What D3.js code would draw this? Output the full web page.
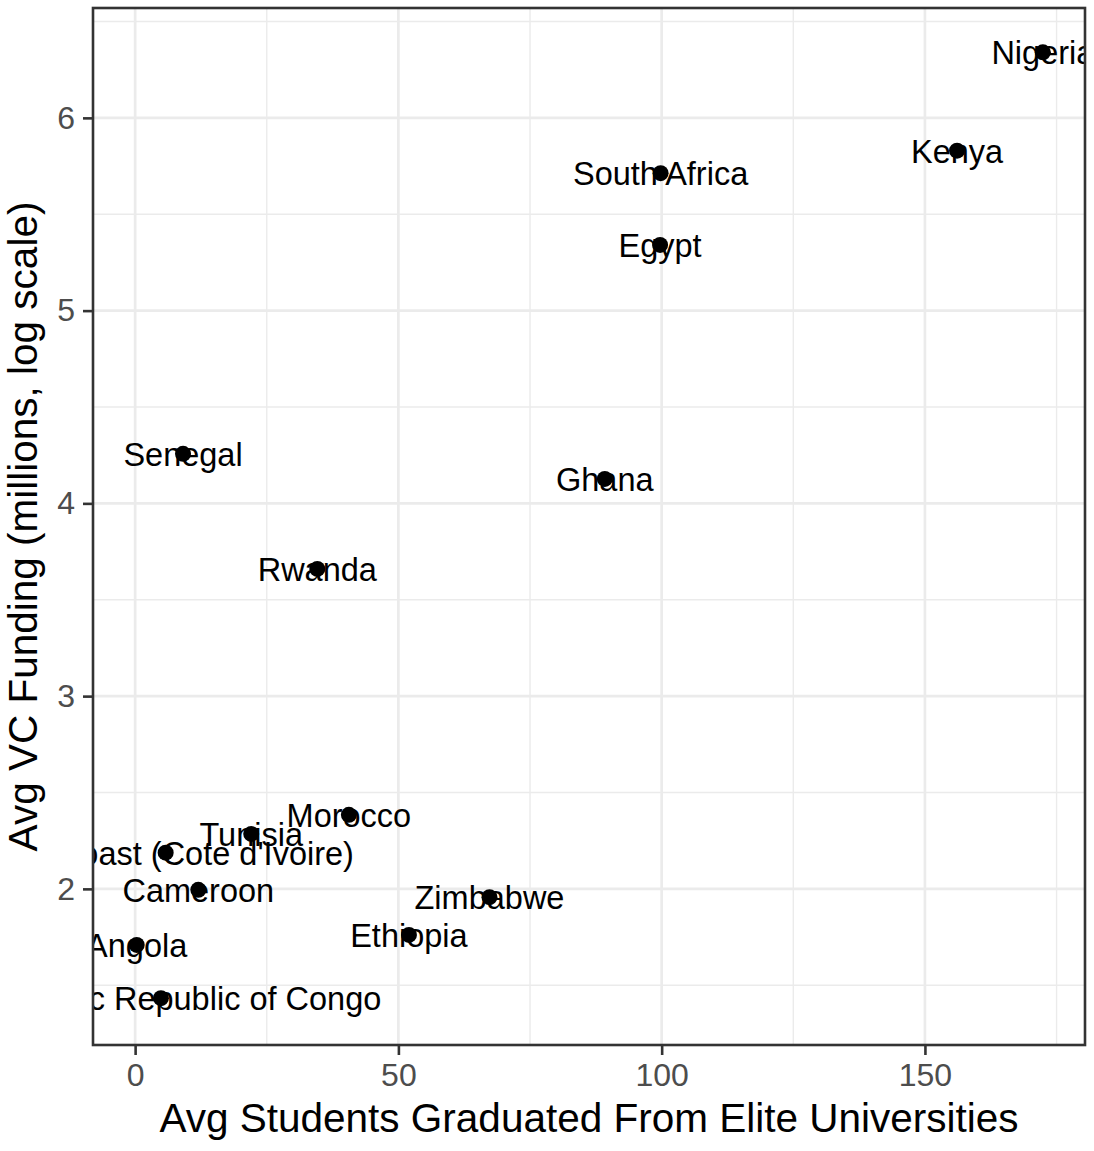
<!DOCTYPE html>
<html>
<head>
<meta charset="utf-8">
<script src="https://cdn.jsdelivr.net/npm/d3@7"></script>
<style>
  html, body { margin: 0; padding: 0; background: #fff; }
  svg { display: block; font-family: "Liberation Sans", Arial, sans-serif; }
</style>
</head>
<body>
<svg id="chart" width="1094" height="1151"></svg>
<script>
// ---- data ----
const countries = ["Nigeria", "Kenya", "South Africa", "Egypt", "Ghana", "Senegal", "Rwanda",
  "Morocco", "Tunisia", "Ivory Coast (Cote d'Ivoire)", "Cameroon", "Zimbabwe", "Ethiopia",
  "Angola", "Democratic Republic of Congo"];
const students = [172.4, 156.1, 99.8, 99.7, 89.2, 9.1, 34.6, 40.6, 22.05, 5.8, 12.0, 67.3, 52.0, 0.3, 4.9];
const funding  = [6.34, 5.83, 5.713, 5.341, 4.127, 4.257, 3.66, 2.384, 2.285, 2.188, 1.995, 1.957, 1.761, 1.709, 1.433];
const xTicks = [0, 50, 100, 150];
const xMinor = [25, 75, 125, 175];
const yTicks = [2, 3, 4, 5, 6];
const yMinor = [1.5, 2.5, 3.5, 4.5, 5.5, 6.5];
const xTitle = "Avg Students Graduated From Elite Universities";
const yTitle = "Avg VC Funding (millions, log scale)";

// ---- layout ----
const P = { left: 93, right: 1085, top: 8, bottom: 1045 };
const svg = d3.select("#chart");
const x = d3.scaleLinear().domain([-8, 180.4]).range([P.left, P.right]);
const y = d3.scaleLinear().domain([1.19, 6.57]).range([P.bottom, P.top]);

svg.append("defs").append("clipPath").attr("id", "panel")
  .append("rect").attr("x", P.left).attr("y", P.top)
  .attr("width", P.right - P.left).attr("height", P.bottom - P.top);

const g = svg.append("g");
g.append("rect").attr("x", P.left).attr("y", P.top)
  .attr("width", P.right - P.left).attr("height", P.bottom - P.top).attr("fill", "#fff");

// minor grid
g.selectAll(".xminor").data(xMinor.filter(v => x(v) < P.right)).join("line")
  .attr("x1", d => x(d)).attr("x2", d => x(d)).attr("y1", P.top).attr("y2", P.bottom)
  .attr("stroke", "#EBEBEB").attr("stroke-width", 1.4);
g.selectAll(".yminor").data(yMinor.filter(v => y(v) > P.top)).join("line")
  .attr("y1", d => y(d)).attr("y2", d => y(d)).attr("x1", P.left).attr("x2", P.right)
  .attr("stroke", "#EBEBEB").attr("stroke-width", 1.4);
// major grid
g.selectAll(".xmajor").data(xTicks).join("line")
  .attr("x1", d => x(d)).attr("x2", d => x(d)).attr("y1", P.top).attr("y2", P.bottom)
  .attr("stroke", "#EBEBEB").attr("stroke-width", 2.7);
g.selectAll(".ymajor").data(yTicks).join("line")
  .attr("y1", d => y(d)).attr("y2", d => y(d)).attr("x1", P.left).attr("x2", P.right)
  .attr("stroke", "#EBEBEB").attr("stroke-width", 2.7);

// data
const data = countries.map((c, i) => ({ c, sx: students[i], fy: funding[i] }));
const marks = svg.append("g").attr("clip-path", "url(#panel)");
marks.selectAll("circle").data(data).join("circle")
  .attr("cx", d => x(d.sx)).attr("cy", d => y(d.fy)).attr("r", 8).attr("fill", "#000");
marks.selectAll("text").data(data).join("text")
  .attr("x", d => x(d.sx)).attr("y", d => y(d.fy) + 12)
  .attr("text-anchor", "middle").attr("font-size", 32.5).attr("fill", "#000")
  .text(d => d.c);

// border
svg.append("rect").attr("x", P.left).attr("y", P.top)
  .attr("width", P.right - P.left).attr("height", P.bottom - P.top)
  .attr("fill", "none").attr("stroke", "#333333").attr("stroke-width", 2.6);

// axes
const xAxis = d3.axisBottom(x).tickValues(xTicks).tickSize(9).tickPadding(8).tickFormat(d3.format("d"));
const xa = svg.append("g").attr("transform", `translate(0,${P.bottom + 1})`).call(xAxis);
xa.select(".domain").remove();
xa.selectAll("line").attr("stroke", "#333333").attr("stroke-width", 2.6);
xa.selectAll("text").attr("font-size", 32).attr("fill", "#4D4D4D").attr("font-family", "Liberation Sans, Arial, sans-serif");

const yAxis = d3.axisLeft(y).tickValues(yTicks).tickSize(9).tickPadding(8).tickFormat(d3.format("d"));
const ya = svg.append("g").attr("transform", `translate(${P.left - 1},0)`).call(yAxis);
ya.select(".domain").remove();
ya.selectAll("line").attr("stroke", "#333333").attr("stroke-width", 2.6);
ya.selectAll("text").attr("font-size", 32).attr("fill", "#4D4D4D").attr("font-family", "Liberation Sans, Arial, sans-serif");

// titles
svg.append("text").attr("x", (P.left + P.right) / 2).attr("y", 1132)
  .attr("text-anchor", "middle").attr("font-size", 40.5).attr("fill", "#000").text(xTitle);
svg.append("text").attr("transform", `translate(37,${(P.top + P.bottom) / 2}) rotate(-90)`)
  .attr("text-anchor", "middle").attr("font-size", 40.5).attr("fill", "#000").text(yTitle);
</script>
</body>
</html>
